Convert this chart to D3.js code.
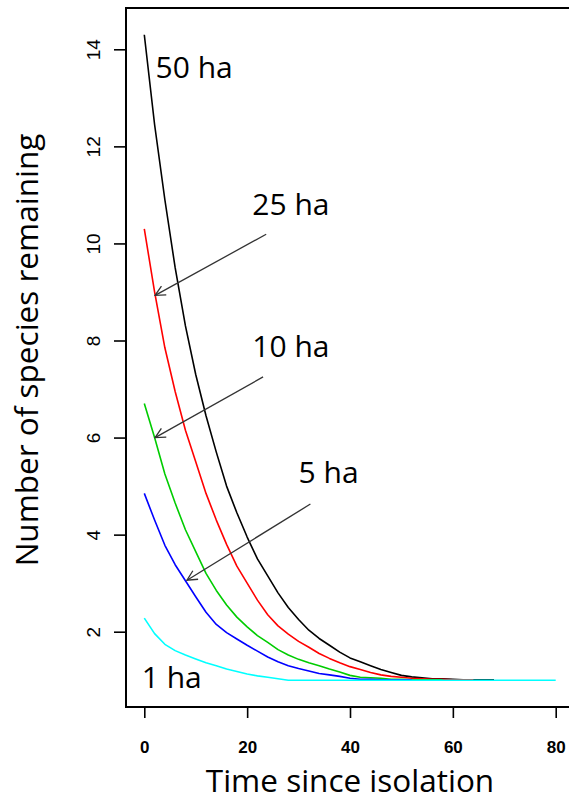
<!DOCTYPE html>
<html>
<head>
<meta charset="utf-8">
<script src="https://cdn.jsdelivr.net/npm/d3@7"></script>
<style>
  body { margin: 0; background: #fff; }
  svg { display: block; }
</style>
</head>
<body>
<div id="chart"></div>
<script>
// time steps (years since isolation)
const times = [0, 2, 4, 6, 8, 10, 12, 14, 16, 18, 20, 22, 24, 26, 28, 30, 32, 34, 36, 38, 40,
               42, 44, 46, 48, 50, 52, 54, 56, 58, 60, 62, 64, 66, 68, 70, 72, 74, 76, 78, 80];

// mean number of species remaining
const ha50 = [14.3, 12.45, 10.9, 9.5, 8.3, 7.3, 6.45, 5.7, 5.0, 4.45, 3.95, 3.5, 3.15, 2.8, 2.5, 2.25,
              2.03, 1.86, 1.72, 1.58, 1.46, 1.38, 1.3, 1.22, 1.16, 1.1, 1.07, 1.05, 1.03, 1.03, 1.02,
              1.01, 1.01, 1.01, 1.01];
const ha25 = [10.3, 9.0, 7.85, 6.95, 6.15, 5.5, 4.85, 4.3, 3.8, 3.35, 3.0, 2.65, 2.35, 2.12, 1.95, 1.8,
              1.68, 1.55, 1.45, 1.36, 1.28, 1.22, 1.16, 1.11, 1.08, 1.06, 1.04, 1.03, 1.02, 1.02, 1.01,
              1.01, 1.01];
const ha10 = [6.7, 6.0, 5.25, 4.65, 4.1, 3.65, 3.2, 2.85, 2.55, 2.3, 2.1, 1.92, 1.78, 1.63, 1.52, 1.43,
              1.36, 1.3, 1.23, 1.17, 1.1, 1.06, 1.05, 1.04, 1.02, 1.02, 1.01, 1.01, 1.01, 1.01];
const ha5 = [4.85, 4.3, 3.78, 3.38, 3.05, 2.72, 2.4, 2.15, 1.98, 1.85, 1.72, 1.6, 1.48, 1.38, 1.3, 1.24,
             1.19, 1.14, 1.11, 1.08, 1.04, 1.02, 1.02, 1.01, 1.01, 1.01, 1.01];
const ha1 = [2.28, 1.96, 1.74, 1.61, 1.52, 1.44, 1.36, 1.3, 1.23, 1.18, 1.13, 1.09, 1.06, 1.03, 1.0, 1.0,
             1.0, 1.0, 1.0, 1.0, 1.0, 1.0, 1.0, 1.0, 1.0, 1.0, 1.0, 1.0, 1.0, 1.0, 1.0, 1.0, 1.0, 1.0,
             1.0, 1.0, 1.0, 1.0, 1.0, 1.0, 1.0];

const seriesNames = ['50 ha', '25 ha', '10 ha', '5 ha', '1 ha'];
const seriesColors = ['#000000', '#ff0000', '#00cc00', '#0000ff', '#00ffff'];
const seriesValues = [ha50, ha25, ha10, ha5, ha1];

const xTicks = [0, 20, 40, 60, 80];
const yTicks = [2, 4, 6, 8, 10, 12, 14];

// label positions [time, species] and arrows [fromT, fromV, toT, toV]
const labelPos = [[2.2, 13.41], [21.0, 10.58], [21.0, 7.66], [30.0, 5.07], [-0.5, 0.84]];
const arrows = [[23.7, 10.19, 2.1, 8.93], [23.1, 7.25, 2.1, 6.0], [32.3, 4.63, 8.3, 3.06]];

const width = 569, height = 802;
const svg = d3.select('#chart').append('svg')
    .attr('width', width)
    .attr('height', height);

const x = d3.scaleLinear().domain([0, 80]).range([144.3, 555.7]);
const y = d3.scaleLinear().domain([2, 14]).range([631.7, 49.3]);

const boxLeft = 126, boxTop = 8, boxBottom = 707;

// curves
const line = d3.line()
    .x(d => x(d[0]))
    .y(d => y(d[1]));

seriesValues.forEach((vals, i) => {
    const pts = vals.map((v, j) => [times[j], v]);
    svg.append('path')
        .attr('d', line(pts))
        .attr('fill', 'none')
        .attr('stroke', seriesColors[i])
        .attr('stroke-width', 1.6)
        .attr('stroke-linejoin', 'round');
});

// arrows
const defs = svg.append('defs');
defs.append('marker')
    .attr('id', 'arrowhead')
    .attr('viewBox', '0 0 12 12')
    .attr('refX', 11)
    .attr('refY', 6)
    .attr('markerWidth', 12)
    .attr('markerHeight', 12)
    .attr('markerUnits', 'userSpaceOnUse')
    .attr('orient', 'auto')
    .append('path')
    .attr('d', 'M1,1 L11,6 L1,11')
    .attr('fill', 'none')
    .attr('stroke', '#333')
    .attr('stroke-width', 1.3);

arrows.forEach(a => {
    svg.append('line')
        .attr('x1', x(a[0])).attr('y1', y(a[1]))
        .attr('x2', x(a[2])).attr('y2', y(a[3]))
        .attr('stroke', '#333')
        .attr('stroke-width', 1.3)
        .attr('marker-end', 'url(#arrowhead)');
});

// area labels
seriesNames.forEach((name, i) => {
    svg.append('text')
        .attr('x', x(labelPos[i][0]))
        .attr('y', y(labelPos[i][1]))
        .style('font-family', '"Open Sans", sans-serif')
        .style('font-size', '30px')
        .attr('fill', '#000')
        .text(name);
});

// box
svg.append('rect')
    .attr('x', boxLeft)
    .attr('y', boxTop)
    .attr('width', 500)
    .attr('height', boxBottom - boxTop)
    .attr('fill', 'none')
    .attr('stroke', '#000')
    .attr('stroke-width', 2);

// x axis
const xAxis = svg.append('g')
    .attr('transform', `translate(0,${boxBottom})`)
    .call(d3.axisBottom(x).tickValues(xTicks).tickSize(11).tickPadding(23));
xAxis.select('.domain').remove();
xAxis.selectAll('.tick line').attr('stroke-width', 1.6);
xAxis.selectAll('text')
    .style('font-family', '"Liberation Sans", Arial, sans-serif')
    .style('font-size', '17px')
    .style('font-weight', 'bold');

// y axis
const yAxis = svg.append('g')
    .attr('transform', `translate(${boxLeft},0)`)
    .call(d3.axisLeft(y).tickValues(yTicks).tickSize(12));
yAxis.select('.domain').remove();
yAxis.selectAll('.tick line').attr('stroke-width', 1.6);
yAxis.selectAll('text')
    .attr('x', 0).attr('dy', 0)
    .attr('transform', 'translate(-33,0) rotate(-90)')
    .attr('text-anchor', 'middle')
    .attr('dominant-baseline', 'central')
    .style('font-family', '"Liberation Sans", Arial, sans-serif')
    .style('font-size', '19px');

// axis titles
svg.append('text')
    .attr('x', x(40))
    .attr('y', 792)
    .attr('text-anchor', 'middle')
    .style('font-family', '"Open Sans", sans-serif')
    .style('font-size', '31.5px')
    .text('Time since isolation');

svg.append('text')
    .attr('transform', `translate(38,${350}) rotate(-90)`)
    .attr('text-anchor', 'middle')
    .style('font-family', '"Open Sans", sans-serif')
    .style('font-size', '31.5px')
    .text('Number of species remaining');
</script>
</body>
</html>
